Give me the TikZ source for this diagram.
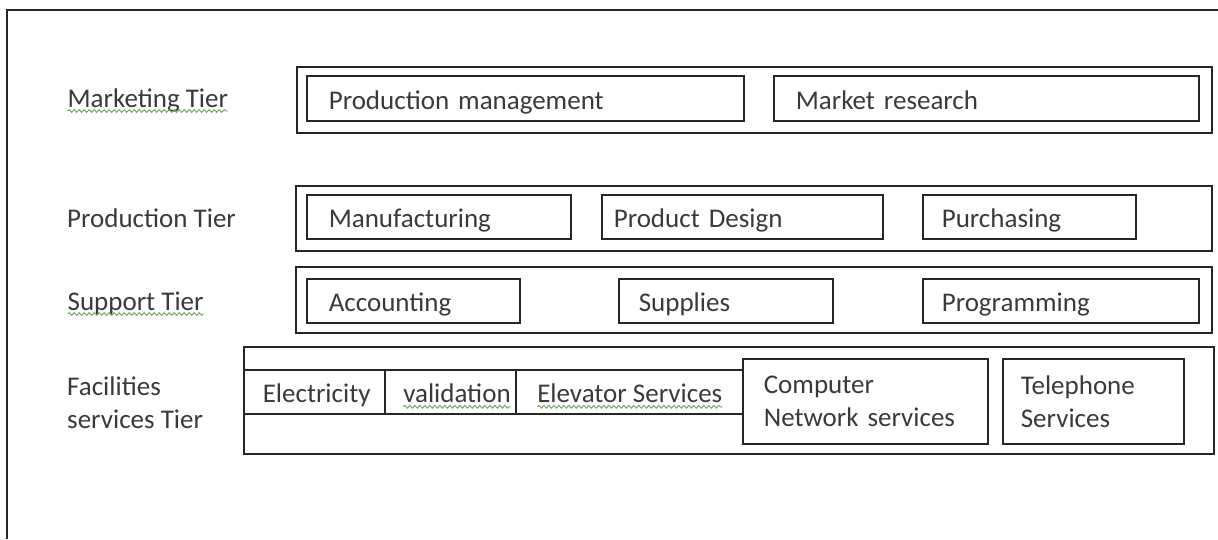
\documentclass[tikz,border=0pt]{standalone}
\usepackage{fontspec}
\setmainfont{Carlito}
\usepackage{xcolor}
\usepackage{tikz}
\usetikzlibrary{positioning,decorations.pathmorphing}

\definecolor{ink}{HTML}{3A3A3A}
\definecolor{edge}{HTML}{262626}
\definecolor{spellgreen}{HTML}{6FA35A}
% spell-check wave under a word
\newcommand{\spell}[1]{\tikz[baseline=(w.base)]{\node[inner sep=0pt, outer sep=0pt] (w) {#1};
  \draw[spellgreen, line width=0.9pt, decorate, decoration={snake, amplitude=1.4pt, segment length=5pt}]
    ([yshift=-4pt]w.base west) -- ([yshift=-4pt]w.base east);}}

\begin{document}
\begin{tikzpicture}[
    x=1pt, y=-1pt,
    tier/.style={rectangle, draw=edge, line width=1.6pt, anchor=north west, inner sep=0pt},
    unit/.style={rectangle, draw=edge, line width=1.6pt, anchor=north west, align=left,
                 inner ysep=0pt, font=\fontsize{27}{33}\selectfont, text=ink},
    oneline/.style={unit, text height=22pt, text depth=0pt},
    tiername/.style={anchor=base west, inner sep=0pt, align=left, font=\fontsize{27}{33}\selectfont, text=ink}
]
\useasboundingbox (0,0) rectangle (1218,539);

% Frame
\draw[edge, line width=1.6pt] (7,539) -- (7,10) -- (1218,10);

% Tier names
\node[tiername] (marketing) at (67,107) {\spell{Marketing Tier}};
\node[tiername] (production) at (67,227) {Production Tier};
\node[tiername] (support) at (67,310) {\spell{Support Tier}};
\node[tiername, anchor=west] (facilities) at (67,403) {Facilities\\services Tier};

% Marketing tier
\node[tier, minimum width=915pt, minimum height=66pt] (mktrow) at (296,66) {};
\node[oneline, minimum height=45pt, inner xsep=22pt, text width=393pt] (prodmgmt) at (306,75) {Production management};
\node[oneline, minimum height=45pt, inner xsep=22pt, text width=381pt] (research) at (773,75) {Market research};

% Production tier
\node[tier, minimum width=916pt, minimum height=65pt] (prodrow) at (295,185) {};
\node[oneline, minimum height=44pt, inner xsep=22pt, text width=220pt] (manuf) at (306,194) {Manufacturing};
\node[oneline, minimum height=44pt, inner xsep=12pt, text width=257pt] (design) at (601,194) {Product Design};
\node[oneline, minimum height=44pt, inner xsep=19pt, text width=175pt] (purchase) at (922,194) {Purchasing};

% Support tier
\node[tier, minimum width=916pt, minimum height=66pt] (supprow) at (295,266) {};
\node[oneline, minimum height=44pt, inner xsep=22pt, text width=169pt] (accounts) at (306,278) {Accounting};
\node[oneline, minimum height=44pt, inner xsep=20pt, text width=174pt] (supplies) at (618,278) {Supplies};
\node[oneline, minimum height=44pt, inner xsep=19pt, text width=238pt] (program) at (922,278) {Programming};

% Facilities services tier
\node[tier, minimum width=970pt, minimum height=107pt] (facrow) at (243,346) {};
\node[oneline, minimum height=44pt, inner xsep=19pt, text width=103pt] (power) at (243,369) {Electricity};
\node[oneline, minimum height=44pt, inner xsep=18pt, text width=95pt] (valid) at (384,369) {\spell{validation}};
\node[oneline, minimum height=44pt, inner xsep=21pt, text width=185pt] (elevator) at (515,369) {\spell{Elevator Services}};
\node[unit, minimum height=85pt, inner xsep=21pt, text width=203pt] (network) at (742,358) {Computer\\Network services};
\node[unit, minimum height=85pt, inner xsep=18pt, text width=145pt] (phone) at (1002,358) {Telephone\\Services};

\end{tikzpicture}
\end{document}
